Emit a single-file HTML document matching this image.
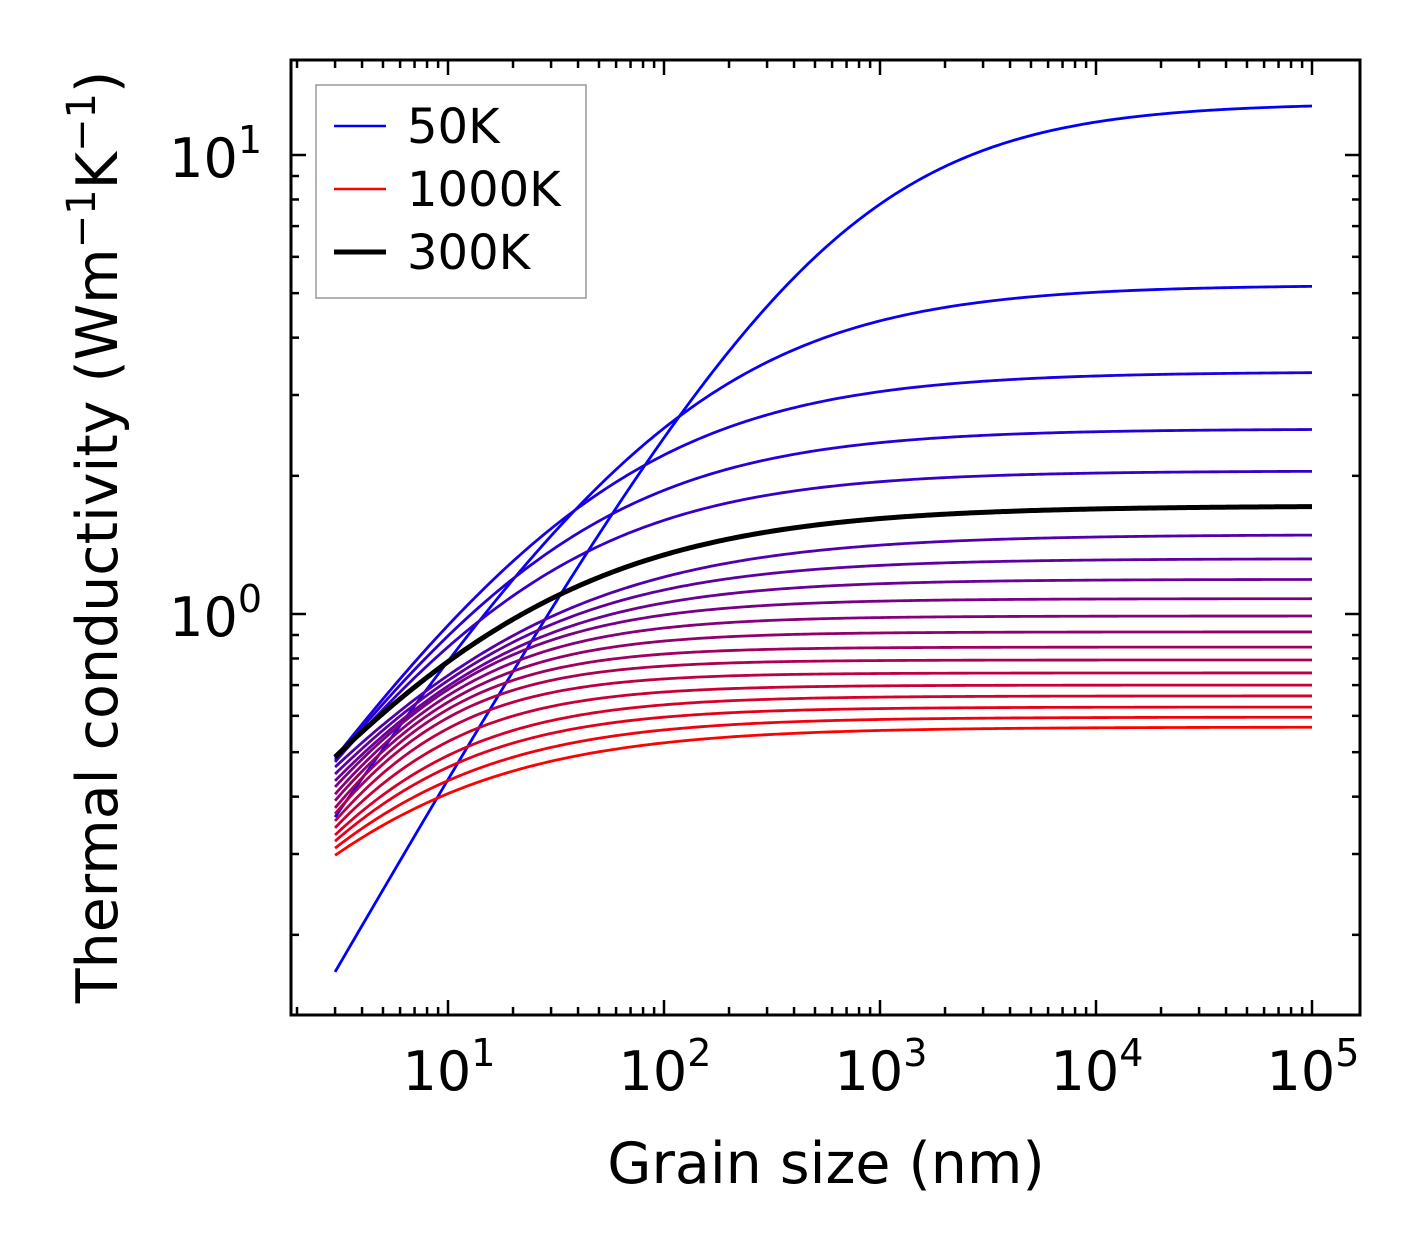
<!DOCTYPE html>
<html><head><meta charset="utf-8"><style>
body{margin:0;background:#fff;}
svg{display:block;font-family:"DejaVu Sans","Liberation Sans",sans-serif;}
</style></head><body>
<svg id="chart" width="1421" height="1254" viewBox="0 0 1421 1254" xmlns="http://www.w3.org/2000/svg">
<rect x="0" y="0" width="1421" height="1254" fill="#fff"/>
<g id="ticks"></g>
<g id="series"></g>
<rect x="291" y="60" width="1069" height="955" fill="none" stroke="#000" stroke-width="3"/>
<g id="labels"></g>
<text x="826" y="1183" font-size="57" text-anchor="middle">Grain size (nm)</text>
<text transform="translate(117,537) rotate(-90)" font-size="57" text-anchor="middle">Thermal conductivity (Wm<tspan dy="-22" font-size="40">−1</tspan><tspan dy="22">K</tspan><tspan dy="-22" font-size="40">−1</tspan><tspan dy="22">)</tspan></text>
<g>
<rect x="316" y="85" width="270" height="213" fill="#fff" stroke="#999" stroke-width="1.5"/>
<line x1="334" y1="126" x2="386" y2="126" stroke="#0000ff" stroke-width="2.5"/>
<text x="407" y="143" font-size="48">50K</text>
<line x1="334" y1="189" x2="386" y2="189" stroke="#ff0000" stroke-width="2.5"/>
<text x="407" y="206" font-size="48">1000K</text>
<line x1="334" y1="252" x2="386" y2="252" stroke="#000" stroke-width="5"/>
<text x="407" y="269" font-size="48">300K</text>
</g>
</svg>
<script>
const temps=[50,100,150,200,250,300,350,400,450,500,550,600,650,700,750,800,850,900,950,1000];
const kAt3nm=[0.166,0.361,0.486,0.481,0.476,0.488,0.464,0.448,0.433,0.420,0.405,0.392,0.378,0.367,0.354,0.342,0.330,0.320,0.309,0.298];
const kAt100nm=[2.42,2.54,2.22,1.86,1.60,1.345,1.204,1.128,1.057,0.995,0.932,0.873,0.818,0.770,0.722,0.676,0.634,0.596,0.559,0.524];
const kBulk=[12.98,5.21,3.37,2.53,2.05,1.72,1.49,1.32,1.19,1.08,0.99,0.914,0.847,0.794,0.744,0.700,0.663,0.627,0.596,0.567];
const xTickLabels=["1","2","3","4","5"];
const yTickLabels=["0","1"];

const NS="http://www.w3.org/2000/svg";
const X=v=>448+216*(Math.log10(v)-1);
const Y=v=>614-459*Math.log10(v);
function mk(tag,attrs,parent){const e=document.createElementNS(NS,tag);for(const k in attrs)e.setAttribute(k,attrs[k]);parent.appendChild(e);return e;}
const tg=document.getElementById('ticks'),sg=document.getElementById('series'),lg=document.getElementById('labels');
for(let d=0;d<=5;d++){for(let m=1;m<10;m++){const v=m*Math.pow(10,d);const x=X(v);if(x<292||x>1359)continue;const len=m===1?15:8;
const t1=mk('line',{x1:x,y1:1015,x2:x,y2:1015-len,stroke:'#000','stroke-width':2.5},tg);


const t2=mk('line',{x1:x,y1:60,x2:x,y2:60+len,stroke:'#000','stroke-width':2.5},tg);

}}
xTickLabels.forEach(p=>{const t=mk('text',{x:X(Math.pow(10,+p))+1,y:1090,'font-size':54,'text-anchor':'middle'},lg);


t.textContent='10';const s=mk('tspan',{dy:-24,'font-size':38},t);s.textContent=p;});
for(let d=-1;d<=1;d++){for(let m=1;m<10;m++){const v=m*Math.pow(10,d);const y=Y(v);if(y<61||y>1014)continue;const len=m===1?15:8;
const t1=mk('line',{x1:291,y1:y,x2:291+len,y2:y,stroke:'#000','stroke-width':2.5},tg);


const t2=mk('line',{x1:1360,y1:y,x2:1360-len,y2:y,stroke:'#000','stroke-width':2.5},tg);

}}
yTickLabels.forEach(p=>{const t=mk('text',{x:262,y:Y(Math.pow(10,+p))+22,'font-size':54,'text-anchor':'end'},lg);


t.textContent='10';const s=mk('tspan',{dy:-24,'font-size':38},t);s.textContent=p;});
const order=temps.map((t,i)=>i).filter(i=>temps[i]!==300).concat([temps.indexOf(300)]);
order.forEach(i=>{
  const kinf=kBulk[i],r3=kinf/kAt3nm[i]-1,r100=kinf/kAt100nm[i]-1;
  const p=Math.log(r3/r100)/Math.log(100/3);
  const Lc=100*Math.pow(r100,1/p);
  let d='';
  for(let j=0;j<=300;j++){const lg10=Math.log10(3)+j*(5-Math.log10(3))/300;const L=Math.pow(10,lg10);
    const k=kinf/(1+Math.pow(Lc/L,p));d+=(j?'L':'M')+X(L).toFixed(2)+' '+Y(k).toFixed(2);}
  const f=i/(temps.length-1);
  const col=temps[i]===300?'#000':`rgb(${Math.round(255*f)},0,${Math.round(255*(1-f))})`;
  const path=mk('path',{d:d,fill:'none',stroke:col,'stroke-width':temps[i]===300?5:2.8},sg);
  
  
});
</script>
</body></html>
